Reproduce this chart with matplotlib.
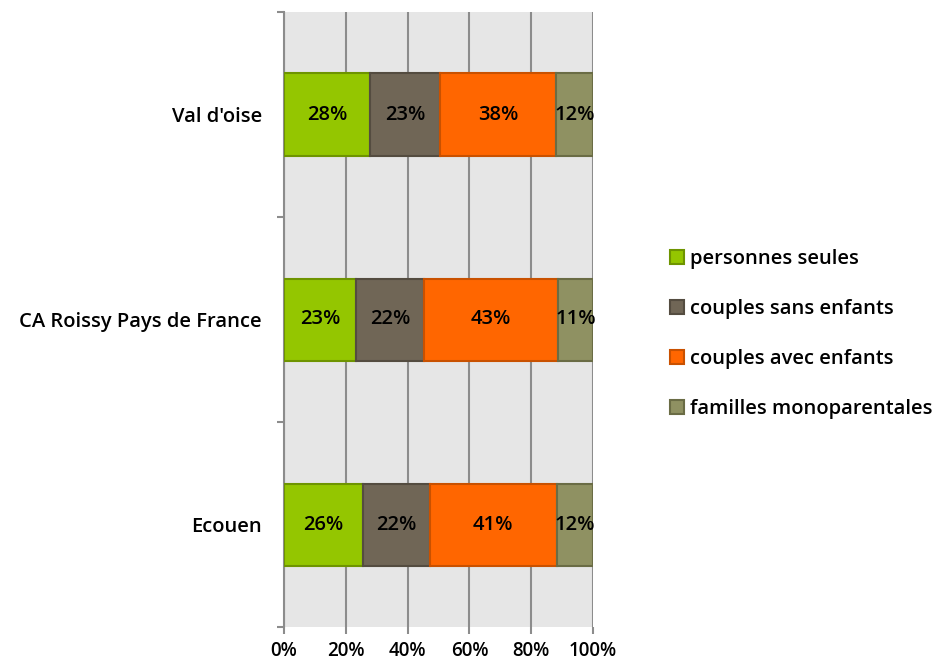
import matplotlib
matplotlib.use("Agg")
import matplotlib.pyplot as plt
import numpy as np

categories = ["Val d'oise", "CA Roissy Pays de France", "Ecouen"]
series_names = ["personnes seules", "couples sans enfants", "couples avec enfants", "familles monoparentales"]
personnes_seules = [27.8, 23.3, 25.6]
couples_sans_enfants = [22.7, 22.0, 21.6]
couples_avec_enfants = [37.5, 43.4, 41.1]
familles_monoparentales = [12.0, 11.3, 11.7]
x_ticks = [0, 20, 40, 60, 80, 100]
x_tick_labels = ["0%", "20%", "40%", "60%", "80%", "100%"]

colors = ["#94c600", "#706656", "#ff6600", "#8f9162"]
edges = ["#6e9400", "#544c40", "#c95100", "#6a6c45"]

plt.rcParams['font.family'] = ['Open Sans', 'DejaVu Sans']
FW = 600
FS = 14.5

fig = plt.figure(figsize=(9.34, 6.64), dpi=100)
ax = fig.add_axes([284/934, 1-627/664, (593-284)/934, (627-12)/664])
ax.set_facecolor("#e6e6e6")

ypos = np.arange(len(categories))[::-1]  # Val d'oise at top
data = [personnes_seules, couples_sans_enfants, couples_avec_enfants, familles_monoparentales]
left = np.zeros(len(categories))
for vals, name, c, ec in zip(data, series_names, colors, edges):
    vals = np.array(vals)
    ax.barh(ypos, vals, left=left, height=0.4, color=c, edgecolor=ec, linewidth=1.5,
            label=name, zorder=3)
    for y, l, v in zip(ypos, left, vals):
        ax.text(l + v/2, y, f"{v:.0f}%", ha="center", va="center", fontsize=FS,
                fontweight=FW, color="black", zorder=4)
    left += vals

ax.set_xlim(0, 100)
ax.set_ylim(-0.5, 2.5)
ax.set_xticks(x_ticks)
ax.set_xticklabels(x_tick_labels, fontsize=13.5, fontweight=FW)
ax.set_yticks(ypos)
ax.set_yticklabels(categories, fontsize=FS, fontweight=FW)
ax.set_yticks([-0.5, 0.5, 1.5, 2.5], minor=True)
ax.tick_params(axis="y", which="major", length=0, pad=16)
ax.tick_params(axis="y", which="minor", length=5, color="#8c8c8c", width=1.5)
ax.tick_params(axis="x", which="major", length=5, color="#8c8c8c", width=1.5, pad=5)
ax.grid(axis="x", color="#8c8c8c", linewidth=1.5, zorder=1)
ax.set_axisbelow(True)
for s in ["top", "right", "bottom"]:
    ax.spines[s].set_visible(False)
ax.spines["left"].set_color("#8c8c8c")
ax.spines["left"].set_linewidth(1.5)

leg = fig.legend(loc="upper left", bbox_to_anchor=(662/934, 1-241/664), frameon=False,
                 prop={"size": FS, "weight": FW}, labelspacing=1.49,
                 handlelength=0.7, handleheight=0.7, handletextpad=0.3,
                 borderaxespad=0, borderpad=0.4)

fig.savefig("out.png", dpi=100)
